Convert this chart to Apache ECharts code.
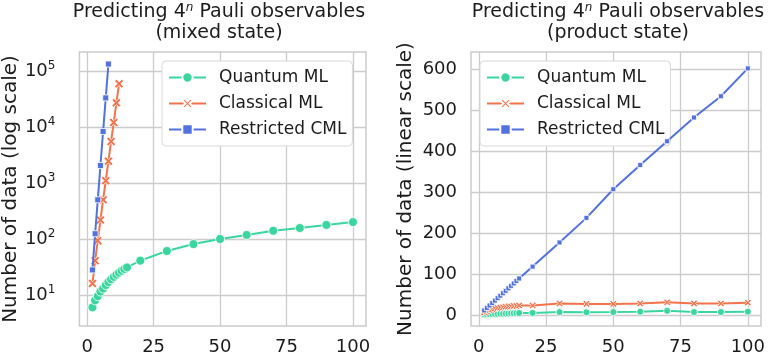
<!DOCTYPE html>
<html><head><meta charset="utf-8">
<script src="https://cdn.jsdelivr.net/npm/echarts@6/dist/echarts.min.js"></script>
<style>html,body{margin:0;padding:0;background:#fff}#c{width:768px;height:357px}</style>
</head><body><div id="c"></div>
<script>
const seriesNames = ['Quantum ML', 'Classical ML', 'Restricted CML'];
const colors = ['#3bd69f', '#f5734a', '#5272df'];

// Left panel: mixed state (log scale)
const nMixedQ = [2,3,4,5,6,7,8,9,10,11,12,13,14,15,20,30,40,50,60,70,80,90,100];
const qMixed  = [6,8,9.5,11.5,13,15,17,19,21,23,25,27,29,31,41,61,81,100,118,140,157,178,200];
const nMixedC = [2,3,4,5,6,7,8,9,10,11,12];
const cMixed  = [16,41,93,218,500,1100,2450,5500,12000,27000,59000];
const nMixedR = [2,3,4,5,6,7,8];
const rMixed  = [28,124,500,2050,8300,33000,133000];

// Right panel: product state (linear scale)
const nProduct = [2,3,4,5,6,7,8,9,10,11,12,13,14,15,20,30,40,50,60,70,80,90,100];
const qProduct = [1,1.5,2,2,2.5,2.5,3,3,3.5,3.5,4,4,4.5,4.7,5,7,6.5,7,8,10,7,7,8];
const cProduct = [6,9,12,14,16,17,18,19,20,21,21,22,22,23,23,28,27,27,28,31,28,28,30];
const rProduct = [11,17,23,29,35,41,47,53,59,65,71,77,83,89,118,177,237,307,366,424,482,534,602];

const xTicks = [0,25,50,75,100];
const logTicks = [10,100,1000,10000,100000];
const logTickExps = ['1','2','3','4','5'];
const linTicks = [0,100,200,300,400,500,600];

const FONT = 'DejaVu Sans';
const TXT = '#1c1c1c';
const GRIDC = '#cccccc';
const xSymbol = 'path://M2,0 L5,3 L8,0 L10,2 L7,5 L10,8 L8,10 L5,7 L2,10 L0,8 L3,5 L0,2 Z';
const symbols = ['circle', xSymbol, 'rect'];

function mk(idx, gi, xs, ys, size, lw) {
  return {
    type: 'line', name: seriesNames[idx], xAxisIndex: gi, yAxisIndex: gi,
    data: xs.map((x, i) => [x, ys[i]]),
    symbol: symbols[idx], symbolSize: idx === 2 ? size - 2 : size,
    showSymbol: true,
    lineStyle: { color: colors[idx], width: lw },
    itemStyle: { color: colors[idx], borderColor: '#fff', borderWidth: 0.8 },
    z: 2 + idx,
    animation: false
  };
}

function xAxis(gi) {
  return {
    type: 'value', gridIndex: gi, min: -2.9, max: 104.9,
    axisLine: { show: false },
    axisTick: { show: false, customValues: xTicks },
    axisLabel: { customValues: xTicks, fontSize: 18, color: TXT, fontFamily: FONT, margin: 12 },
    splitLine: { show: true, lineStyle: { color: GRIDC, width: 1.3 } }
  };
}

const legendBase = {
  orient: 'vertical', top: 61,
  backgroundColor: '#ffffff', borderColor: '#d9d9d9', borderWidth: 1, borderRadius: 4,
  padding: [8, 6, 8, 6], itemWidth: 37, itemHeight: 13, itemGap: 9,
  textStyle: { fontSize: 17, color: TXT, fontFamily: FONT, padding: [0, 0, 0, 8] },
  data: seriesNames
};

function titleText(sub) {
  return '{t|Predicting 4}{s|n}{t| Pauli observables}\n{t|' + sub + '}';
}
const titleRich = {
  t: { fontSize: 19, lineHeight: 21, color: TXT, fontFamily: FONT, fontWeight: 'normal' },
  s: { fontSize: 12, lineHeight: 21, color: TXT, fontFamily: FONT, fontWeight: 'normal', fontStyle: 'italic', verticalAlign: 'top' }
};

const option = {
  backgroundColor: '#ffffff',
  animation: false,
  title: [
    { text: titleText('(mixed state)'), left: 219, top: 2, textAlign: 'center', padding: 0, textStyle: { fontWeight: 'normal', rich: titleRich } },
    { text: titleText('(product state)'), left: 618, top: 2, textAlign: 'center', padding: 0, textStyle: { fontWeight: 'normal', rich: titleRich } }
  ],
  legend: [
    Object.assign({}, legendBase, { left: 162 }),
    Object.assign({}, legendBase, { left: 480 })
  ],
  grid: [
    { left: 72, top: 52, width: 294, height: 274, show: true, borderColor: GRIDC, borderWidth: 1.5 },
    { left: 471, top: 52, width: 295, height: 274, show: true, borderColor: GRIDC, borderWidth: 1.5 }
  ],
  xAxis: [xAxis(0), xAxis(1)],
  yAxis: [
    {
      type: 'log', logBase: 10, gridIndex: 0, min: 2.79, max: 218000,
      name: 'Number of data (log scale)', nameLocation: 'middle', nameGap: 56,
      nameTextStyle: { fontSize: 20, color: TXT, fontFamily: FONT },
      axisLine: { show: false },
      axisTick: { show: false, customValues: logTicks },
      axisLabel: {
        customValues: logTicks, margin: 24, color: TXT, fontFamily: FONT, fontSize: 18,
        formatter: function (v) {
          const i = logTicks.findIndex(t => Math.abs(t - v) / t < 1e-6);
          return i < 0 ? '' : '{b|10}{s|' + logTickExps[i] + '}';
        },
        rich: {
          b: { fontSize: 18, lineHeight: 22, color: TXT, fontFamily: FONT },
          s: { fontSize: 12, lineHeight: 22, color: TXT, fontFamily: FONT, verticalAlign: 'top' }
        }
      },
      splitLine: { show: true, lineStyle: { color: GRIDC, width: 1.3 } }
    },
    {
      type: 'value', gridIndex: 1, min: -27, max: 642,
      name: 'Number of data (linear scale)', nameLocation: 'middle', nameGap: 55,
      nameTextStyle: { fontSize: 20, color: TXT, fontFamily: FONT },
      axisLine: { show: false },
      axisTick: { show: false, customValues: linTicks },
      axisLabel: { customValues: linTicks, margin: 14, color: TXT, fontFamily: FONT, fontSize: 18 },
      splitLine: { show: true, lineStyle: { color: GRIDC, width: 1.3 } }
    }
  ],
  series: [
    mk(0, 0, nMixedQ, qMixed, 9, 2),
    mk(1, 0, nMixedC, cMixed, 9, 2),
    mk(2, 0, nMixedR, rMixed, 8, 2),
    mk(0, 1, nProduct, qProduct, 7, 2),
    mk(1, 1, nProduct, cProduct, 7, 2),
    mk(2, 1, nProduct, rProduct, 7, 2)
  ]
};

const chart = echarts.init(document.getElementById('c'), null, { renderer: 'canvas' });
chart.setOption(option);
</script>
</body></html>
